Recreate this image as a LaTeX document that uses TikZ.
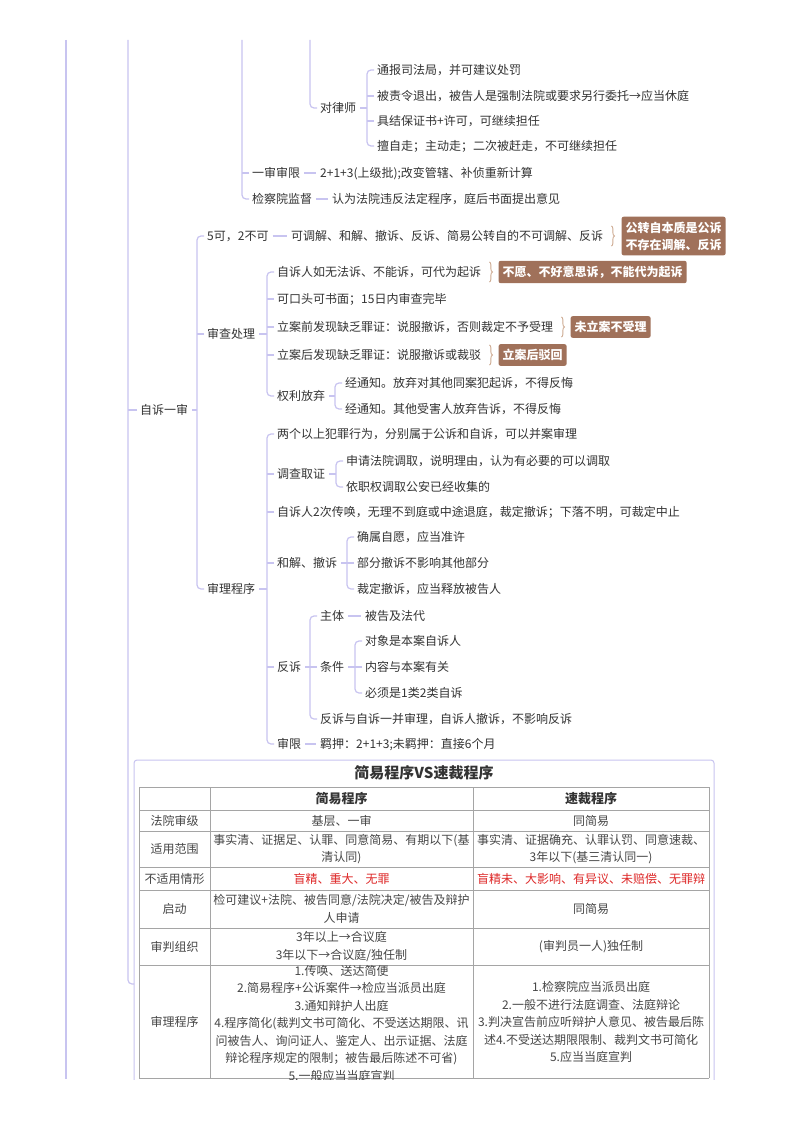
\documentclass[tikz,border=0pt]{standalone}
\usepackage{fontspec}
\setmainfont{Noto Sans CJK SC}
\usetikzlibrary{decorations.pathreplacing}
\definecolor{linec}{RGB}{200,196,240}
\definecolor{txtc}{RGB}{51,51,51}
\definecolor{tagc}{RGB}{160,113,90}
\definecolor{brcc}{RGB}{205,170,145}
\definecolor{cellc}{RGB}{70,70,70}
\definecolor{redc}{RGB}{222,40,40}
\definecolor{gridc}{RGB}{165,165,165}
\newcommand\brA[2]{\draw[conn,rounded corners=4pt] ([xshift=-3pt]#1.west) -- ([xshift=-10pt]#1.west) -- ([xshift=-10pt]#2.west) -- ([xshift=-3pt]#2.west);}
\newcommand\tk[1]{\foreach \m in {#1}{\draw[conn] ([xshift=-3pt]\m.west) -- ([xshift=-10pt]\m.west);}}
\newcommand\plk[2]{\draw[conn] ([xshift=4pt]#1.east) -- ([xshift=-10pt]#1.east -| #2.west);}
\newcommand\lnk[2]{\draw[conn] ([xshift=4pt]#1.east) -- ([xshift=-4pt]#2.west);}
\newcommand\brc[1]{\draw[brcl,decorate,decoration={brace,amplitude=3pt}] ([xshift=8pt,yshift=10pt]#1.east) -- ([xshift=8pt,yshift=-10pt]#1.east);}
\begin{document}
\begin{tikzpicture}[x=1pt,y=-1pt,
 txt/.style={anchor=west,inner sep=0pt,text=txtc,font=\fontsize{12}{14}\selectfont,text height=10.5pt,text depth=1.5pt},
 conn/.style={draw=linec,line width=1.2pt},
 tag/.style={anchor=west,fill=tagc,text=white,font=\fontsize{12}{17}\selectfont\bfseries,rounded corners=2pt,inner xsep=4pt,inner ysep=5pt,align=left},
 brcl/.style={draw=brcc,line width=0.9pt},
 cell/.style={inner sep=0pt,text=cellc,font=\fontsize{12}{17.5}\selectfont,align=center},
 hcell/.style={inner sep=0pt,text=txtc,font=\fontsize{13}{16}\selectfont\bfseries},
 gridl/.style={draw=gridc,line width=0.8pt}]
\useasboundingbox[fill=white] (0,0) rectangle (800,1132);

% ---------- root lines ----------
\coordinate (topR) at (66,40);
\coordinate (botR) at (66,1079);
\draw[conn] (topR) -- (botR);
\coordinate (topZ) at (128,40);
\coordinate (frameW) at (134,984);
\draw[conn,rounded corners=4pt] (topZ) |- (frameW);

% ---------- top part ----------
\node[txt] (lawyer) at (320,108) {对律师};
\node[txt] (l1) at (377,70) {通报司法局，并可建议处罚};
\node[txt] (l2) at (377,96) {被责令退出，被告人是强制法院或要求另行委托→应当休庭};
\node[txt] (l3) at (377,121) {具结保证书+许可，可继续担任};
\node[txt] (l4) at (377,146) {擅自走；主动走；二次被赶走，不可继续担任};
\node[txt] (ysx) at (252,173) {一审审限};
\node[txt] (ysxc) at (320,173) {2+1+3(上级批);改变管辖、补侦重新计算};
\node[txt] (jcy) at (252,199) {检察院监督};
\node[txt] (jcyc) at (332,199) {认为法院违反法定程序，庭后书面提出意见};

\coordinate (topA) at (310,40);
\draw[conn,rounded corners=4pt] (topA) |- ([xshift=-3pt]lawyer.west);
\plk{lawyer}{l1} \brA{l1}{l4} \tk{l2,l3}
\coordinate (topB) at (242,40);
\draw[conn,rounded corners=4pt] (topB) |- ([xshift=-3pt]jcy.west);
\draw[conn] ([xshift=-3pt]ysx.west) -- (ysx.west -| topB);
\lnk{ysx}{ysxc} \lnk{jcy}{jcyc}

% ---------- 自诉一审 ----------
\node[txt] (zs) at (140,410) {自诉一审};
\draw[conn] ([xshift=-3pt]zs.west) -- (zs.west -| topZ);
\node[txt] (k5) at (207,236) {5可，2不可};
\node[txt] (k5c) at (291,236) {可调解、和解、撤诉、反诉、简易公转自的不可调解、反诉};
\node[tag] (t1) at ([xshift=18pt]k5c.east) {公转自本质是公诉\\不存在调解、反诉};
\node[txt] (scl) at (207,334) {审查处理};
\node[txt] (s1) at (277,272) {自诉人如无法诉、不能诉，可代为起诉};
\node[tag] (t2) at ([xshift=17pt]s1.east) {不愿、不好意思诉，不能代为起诉};
\node[txt] (s2) at (277,299) {可口头可书面；15日内审查完毕};
\node[txt] (s3) at (277,327) {立案前发现缺乏罪证：说服撤诉，否则裁定不予受理};
\node[tag] (t3) at ([xshift=17pt]s3.east) {未立案不受理};
\node[txt] (s4) at (277,355) {立案后发现缺乏罪证：说服撤诉或裁驳};
\node[tag] (t4) at ([xshift=17pt]s4.east) {立案后驳回};
\node[txt] (ql) at (277,396) {权利放弃};
\node[txt] (q1) at (345,383) {经通知。放弃对其他同案犯起诉，不得反悔};
\node[txt] (q2) at (345,409) {经通知。其他受害人放弃告诉，不得反悔};

\node[txt] (slc) at (207,589) {审理程序};
\node[txt] (r1) at (277,434) {两个以上犯罪行为，分别属于公诉和自诉，可以并案审理};
\node[txt] (dc) at (277,474) {调查取证};
\node[txt] (d1) at (346,461) {申请法院调取，说明理由，认为有必要的可以调取};
\node[txt] (d2) at (346,487) {依职权调取公安已经收集的};
\node[txt] (r3) at (277,512) {自诉人2次传唤，无理不到庭或中途退庭，裁定撤诉；下落不明，可裁定中止};
\node[txt] (hj) at (277,563) {和解、撤诉};
\node[txt] (h1) at (357,537) {确属自愿，应当准许};
\node[txt] (h2) at (357,563) {部分撤诉不影响其他部分};
\node[txt] (h3) at (357,589) {裁定撤诉，应当释放被告人};
\node[txt] (fs) at (277,667) {反诉};
\node[txt] (zt) at (320,616) {主体};
\node[txt] (ztc) at (365,616) {被告及法代};
\node[txt] (tj) at (320,667) {条件};
\node[txt] (tj1) at (365,641) {对象是本案自诉人};
\node[txt] (tj2) at (365,667) {内容与本案有关};
\node[txt] (tj3) at (365,693) {必须是1类2类自诉};
\node[txt] (fs4) at (320,719) {反诉与自诉一并审理，自诉人撤诉，不影响反诉};
\node[txt] (sx) at (277,744) {审限};
\node[txt] (sxc) at (320,744) {羁押：2+1+3;未羁押：直接6个月};

\plk{zs}{k5} \brA{k5}{slc} \tk{scl}
\lnk{k5}{k5c} \brc{k5c}
\plk{scl}{s1} \brA{s1}{ql} \tk{s2,s3,s4}
\brc{s1} \brc{s3} \brc{s4}
\plk{ql}{q1} \brA{q1}{q2}
\plk{slc}{r1} \brA{r1}{sx} \tk{dc,r3,hj,fs}
\plk{dc}{d1} \brA{d1}{d2}
\plk{hj}{h1} \brA{h1}{h3} \tk{h2}
\plk{fs}{zt} \brA{zt}{fs4} \tk{tj}
\lnk{zt}{ztc}
\plk{tj}{tj1} \brA{tj1}{tj3} \tk{tj2}
\lnk{sx}{sxc}

% ---------- table ----------
\begin{scope}
\clip (0,0) rectangle (800,1079);
\draw[draw=linec,line width=1pt,rounded corners=3pt] (134,1085) -- (134,760) -- (714,760) -- (714,1085);
\node[inner sep=0pt,text=txtc,font=\fontsize{15}{18}\selectfont\bfseries] (ttl) at (424,773) {简易程序VS速裁程序};
\foreach \yy in {787,810,831,867,890,928,965,1078} \draw[gridl] (139,\yy) -- (709,\yy);
\foreach \xx in {139,210,473,709} \draw[gridl] (\xx,787) -- (\xx,1078);
\node[hcell] (hd2) at (341.5,798.5) {简易程序};
\node[hcell] (hd3) at (591,798.5) {速裁程序};
\node[cell] (a1) at (174.5,820.5) {法院审级};
\node[cell] (a2) at (174.5,849) {适用范围};
\node[cell] (a3) at (174.5,878.5) {不适用情形};
\node[cell] (a4) at (174.5,909) {启动};
\node[cell] (a5) at (174.5,946.5) {审判组织};
\node[cell] (a6) at (174.5,1022) {审理程序};
\node[cell] (b1) at (341.5,820.5) {基层、一审};
\node[cell] (b2) at (341.5,849) {事实清、证据足、认罪、同意简易、有期以下(基\\清认同)};
\node[cell,text=redc] (b3) at (341.5,878.5) {盲精、重大、无罪};
\node[cell] (b4) at (341.5,909) {检可建议+法院、被告同意/法院决定/被告及辩护\\人申请};
\node[cell] (b5) at (341.5,946.5) {3年以上→合议庭\\3年以下→合议庭/独任制};
\node[cell] (b6) at (341.5,1023) {1.传唤、送达简便\\2.简易程序+公诉案件→检应当派员出庭\\3.通知辩护人出庭\\4.程序简化(裁判文书可简化、不受送达期限、讯\\问被告人、询问证人、鉴定人、出示证据、法庭\\辩论程序规定的限制；被告最后陈述不可省)\\5.一般应当当庭宣判};
\node[cell] (c1) at (591,820.5) {同简易};
\node[cell] (c2) at (591,849) {事实清、证据确充、认罪认罚、同意速裁、\\3年以下(基三清认同一)};
\node[cell,text=redc] (c3) at (591,878.5) {盲精未、大影响、有异议、未赔偿、无罪辩};
\node[cell] (c4) at (591,909) {同简易};
\node[cell] (c5) at (591,946.5) {(审判员一人)独任制};
\node[cell] (c6) at (591,1022) {1.检察院应当派员出庭\\2.一般不进行法庭调查、法庭辩论\\3.判决宣告前应听辩护人意见、被告最后陈\\述4.不受送达期限限制、裁判文书可简化\\5.应当当庭宣判};
\end{scope}
\end{tikzpicture}
\end{document}
